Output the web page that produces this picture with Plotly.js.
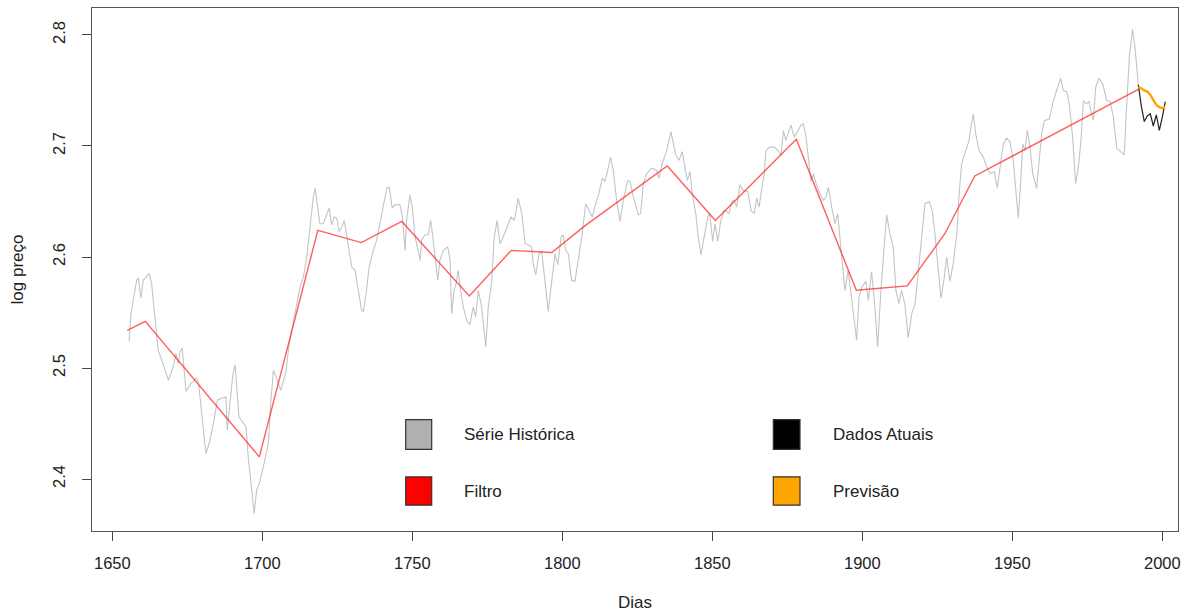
<!DOCTYPE html>
<html>
<head>
<meta charset="utf-8">
<script src="https://cdn.plot.ly/plotly-3.0.1.min.js"></script>
<style>html,body{margin:0;padding:0;background:#fff;}#chart{width:1194px;height:616px;}</style>
</head>
<body>
<div id="chart"></div>
<script>
// ---- Data ----
const histDays = [1655.6,1656.2,1656.8,1658.1,1658.7,1659.5,1660.3,1662.3,1663.1,1664.2,1665.3,1666.5,1668.7,1670.3,1671.2,1672.0,1672.6,1673.3,1674.6,1676.2,1677.9,1678.7,1679.8,1681.2,1682.3,1683.7,1685.0,1686.5,1687.9,1688.3,1690.1,1690.9,1692.2,1693.1,1694.6,1695.3,1696.2,1696.8,1697.3,1698.1,1699.0,1700.6,1702.0,1702.8,1703.7,1704.6,1706.1,1707.8,1708.7,1709.8,1710.9,1712.6,
1713.7,1714.8,1715.9,1717.0,1717.6,1718.7,1719.2,1720.3,1721.5,1722.3,1723.1,1724.0,1724.8,1725.6,1726.5,1727.3,1728.1,1728.7,1729.8,1730.9,1732.0,1733.1,1733.7,1734.6,1735.6,1736.7,1738.1,1739.2,1740.3,1741.5,1742.3,1743.3,1744.2,1745.9,1746.7,1747.6,1748.1,1749.2,1750.0,1750.9,1751.7,1752.6,1753.1,1754.2,1755.3,1756.1,1756.7,1757.6,1758.5,1759.2,1760.3,1761.8,1762.6,1763.1,1763.9,1764.6,1765.3,1766.1,1767.0,1768.1,1769.2,1770.3,1771.1,
1772.0,1773.1,1774.5,1775.3,1776.5,1777.3,1778.3,1779.2,1780.3,1781.5,1782.9,1784.0,1785.3,1786.5,1787.6,1788.7,1789.8,1790.3,1791.2,1792.2,1793.1,1794.2,1795.3,1796.5,1797.6,1798.5,1799.6,1800.3,1801.1,1802.0,1803.1,1804.2,1805.3,1806.5,1807.8,1808.9,1810.0,1811.1,1812.2,1813.3,1814.2,1815.1,1816.1,1817.0,1818.1,1819.2,1820.3,1821.8,1822.6,1823.7,1825.3,1826.1,1827.0,1828.1,1829.8,1831.5,
1832.2,1833.3,1834.8,1836.2,1837.0,1837.8,1838.9,1840.0,1840.9,1841.7,1842.6,1843.3,1844.5,1845.3,1846.2,1847.3,1848.5,1849.2,1850.1,1850.9,1851.8,1852.8,1853.9,1854.8,1855.6,1856.5,1857.3,1858.1,1859.2,1860.3,1861.8,1862.9,1864.0,1864.8,1865.6,1866.5,1867.3,1867.9,1869.2,1870.7,1872.2,1872.9,1873.7,1874.5,1875.3,1876.2,1877.3,1878.5,1879.6,1880.3,1881.1,1882.0,1882.9,1883.7,1884.6,1885.9,1887.0,1887.9,1888.7,1889.8,1890.9,1891.8,
1893.1,1894.2,1895.3,1896.5,1897.3,1898.1,1898.9,1899.8,1901.2,1902.0,1903.1,1904.2,1905.1,1906.2,1907.3,1908.1,1909.2,1910.3,1911.2,1912.2,1913.1,1914.2,1915.3,1916.5,1917.6,1918.7,1919.8,1920.9,1922.3,1923.3,1924.2,1925.3,1926.2,1927.2,1928.1,1929.2,1930.3,1931.5,1932.2,1933.1,1934.5,1935.6,1936.2,1937.0,1937.8,1938.9,1940.3,1941.5,1942.6,1944.0,1945.0,1945.9,1947.0,1948.1,1949.2,1950.3,1951.2,1952.0,1952.8,1953.5,1954.2,1955.0,1955.9,1956.8,1958.1,1959.0,1959.8,1960.7,1962.3,1963.7,1964.8,1966.1,1967.0,1968.1,1969.0,1970.1,1971.1,1972.0,1972.9,1973.7,1974.6,1975.5,1976.2,1977.0,1977.8,1978.9,1980.1,1981.5,1982.6,1983.7,1984.8,1986.2,1987.3,1988.1,1989.0,1990.1,1990.9,1992.0];
const histValues = [2.524,2.549,2.558,2.579,2.581,2.563,2.579,2.585,2.576,2.546,2.516,2.507,2.489,2.501,2.513,2.504,2.515,2.518,2.479,2.486,2.491,2.488,2.462,2.423,2.432,2.450,2.471,2.473,2.474,2.444,2.492,2.503,2.456,2.453,2.447,2.420,2.399,2.381,2.369,2.390,2.396,2.414,2.432,2.468,2.498,2.492,2.480,2.495,2.516,2.534,2.549,2.573,
2.582,2.600,2.627,2.654,2.662,2.642,2.630,2.630,2.638,2.644,2.629,2.636,2.635,2.623,2.627,2.633,2.620,2.609,2.591,2.588,2.570,2.552,2.551,2.567,2.591,2.603,2.615,2.630,2.648,2.662,2.663,2.644,2.647,2.647,2.636,2.606,2.633,2.656,2.645,2.618,2.609,2.597,2.615,2.620,2.620,2.633,2.621,2.600,2.579,2.597,2.606,2.609,2.597,2.549,2.570,2.576,2.588,2.570,2.555,2.543,2.539,2.555,2.546,
2.570,2.555,2.519,2.555,2.579,2.618,2.633,2.612,2.618,2.627,2.636,2.633,2.653,2.639,2.612,2.611,2.609,2.594,2.584,2.603,2.605,2.579,2.551,2.579,2.603,2.593,2.618,2.620,2.606,2.603,2.579,2.578,2.597,2.618,2.648,2.642,2.636,2.648,2.657,2.671,2.668,2.678,2.690,2.678,2.651,2.632,2.651,2.669,2.668,2.654,2.638,2.639,2.666,2.675,2.680,2.678,
2.671,2.684,2.696,2.713,2.702,2.692,2.687,2.695,2.680,2.669,2.677,2.657,2.639,2.618,2.602,2.618,2.636,2.639,2.614,2.630,2.614,2.632,2.642,2.641,2.639,2.650,2.651,2.645,2.665,2.660,2.659,2.642,2.639,2.653,2.645,2.662,2.675,2.696,2.699,2.699,2.695,2.691,2.714,2.705,2.711,2.719,2.708,2.714,2.719,2.720,2.711,2.690,2.668,2.675,2.666,2.657,2.651,2.654,2.663,2.645,2.630,2.639,
2.603,2.570,2.588,2.564,2.543,2.525,2.564,2.573,2.578,2.561,2.587,2.555,2.519,2.570,2.615,2.638,2.621,2.609,2.570,2.558,2.570,2.557,2.527,2.549,2.558,2.588,2.624,2.648,2.650,2.642,2.621,2.591,2.563,2.579,2.600,2.578,2.594,2.621,2.654,2.684,2.696,2.705,2.717,2.729,2.711,2.696,2.690,2.681,2.675,2.677,2.662,2.681,2.702,2.707,2.704,2.687,2.657,2.635,2.669,2.702,2.696,2.714,2.699,2.675,2.662,2.687,2.711,2.723,2.724,2.741,2.750,2.761,2.750,2.749,2.738,2.708,2.666,2.681,2.705,2.741,2.738,2.740,2.732,2.723,2.753,2.761,2.756,2.741,2.740,2.726,2.698,2.695,2.692,2.735,2.780,2.805,2.789,2.755];

const filterDays = [1655,1661,1699,1718.5,1733,1746.5,1769,1783,1796.5,1807.5,1835,1851,1878,1898,1915,1927.5,1937.5,1992];
const filterValues = [2.534,2.542,2.420,2.624,2.613,2.632,2.565,2.606,2.604,2.628,2.682,2.633,2.706,2.570,2.574,2.621,2.673,2.751];

const currentDays = [1992,1993,1994,1995,1996,1997,1998,1999,2000,2001];
const currentValues = [2.755,2.736,2.722,2.727,2.729,2.718,2.728,2.714,2.726,2.740];

const forecastDays = [1992,1993,1994,1995,1996,1997,1998,1999,2000,2001];
const forecastValues = [2.753,2.752,2.750,2.749,2.746,2.741,2.737,2.735,2.734,2.735];

const legendLabels = ["Série Histórica","Filtro","Dados Atuais","Previsão"];
const legendColors = ["#b0b0b0","#ff0000","#000000","#ffa500"];
const xTicks = [1650,1700,1750,1800,1850,1900,1950,2000];
const yTicks = [2.4,2.5,2.6,2.7,2.8];
const xTitle = "Dias";
const yTitle = "log preço";

// ---- Layout helpers (pixel -> paper) ----
const L = 92, R = 1178, T = 8, B = 531;
const px = x => (x - L) / (R - L);
const py = y => (B - y) / (B - T);
const FONT = "Liberation Sans, Arial, sans-serif";

const traces = [
  {x: histDays, y: histValues, type: "scatter", mode: "lines", line: {color: "#c4c4c4", width: 1.1}, hoverinfo: "skip"},
  {x: filterDays, y: filterValues, type: "scatter", mode: "lines", line: {color: "rgba(255,40,40,0.75)", width: 1.4}, hoverinfo: "skip"},
  {x: currentDays, y: currentValues, type: "scatter", mode: "lines", line: {color: "#222", width: 1.2}, hoverinfo: "skip"},
  {x: forecastDays, y: forecastValues, type: "scatter", mode: "lines", line: {color: "#ffa500", width: 2.4}, hoverinfo: "skip"}
];

// legend: 2 columns x 2 rows
const boxX = [[405.7, 431.7], [773.3, 800]];
const boxY = [[419.7, 449.3], [476.9, 505.2]];
const textX = [462, 830.5];
const shapes = [], annotations = [];
legendLabels.forEach((lab, i) => {
  const col = Math.floor(i / 2), row = i % 2;
  shapes.push({type: "rect", xref: "paper", yref: "paper",
    x0: px(boxX[col][0]), x1: px(boxX[col][1]), y0: py(boxY[row][1]), y1: py(boxY[row][0]),
    fillcolor: legendColors[i], line: {color: "#333", width: 1.2}});
  annotations.push({xref: "paper", yref: "paper", x: px(textX[col]), y: py((boxY[row][0] + boxY[row][1]) / 2),
    xanchor: "left", yanchor: "middle", showarrow: false, text: lab,
    font: {family: FONT, size: 17, color: "#222"}});
});

const layout = {
  width: 1194, height: 616,
  margin: {l: L, r: 1194 - R, t: T, b: 616 - B},
  paper_bgcolor: "#fff", plot_bgcolor: "#fff",
  showlegend: false, hovermode: false,
  font: {family: FONT, size: 17, color: "#222"},
  xaxis: {
    range: [1643.23, 2005.23], tickmode: "array", tickvals: xTicks, ticktext: xTicks.map(String),
    ticks: "outside", ticklen: 9, tickcolor: "#444", tickwidth: 1,
    showline: true, mirror: true, linecolor: "#555", linewidth: 1.2,
    showgrid: false, zeroline: false, ticklabelstandoff: 8,
    tickfont: {family: FONT, size: 16.5, color: "#222"},
    title: {text: xTitle, font: {family: FONT, size: 17, color: "#222"}, standoff: 25}
  },
  yaxis: {
    range: [2.3532, 2.8243], tickmode: "array", tickvals: yTicks, ticktext: yTicks.map(v => v.toFixed(1)),
    ticks: "outside", ticklen: 9, tickcolor: "#444", tickwidth: 1, tickangle: -90,
    showline: true, mirror: true, linecolor: "#555", linewidth: 1.2,
    showgrid: false, zeroline: false, ticklabelstandoff: 10,
    tickfont: {family: FONT, size: 16.5, color: "#222"},
    title: {text: yTitle, font: {family: FONT, size: 17, color: "#222"}, standoff: 22}
  },
  shapes: shapes,
  annotations: annotations
};

Plotly.newPlot("chart", traces, layout, {displayModeBar: false, staticPlot: true});
</script>
</body>
</html>
